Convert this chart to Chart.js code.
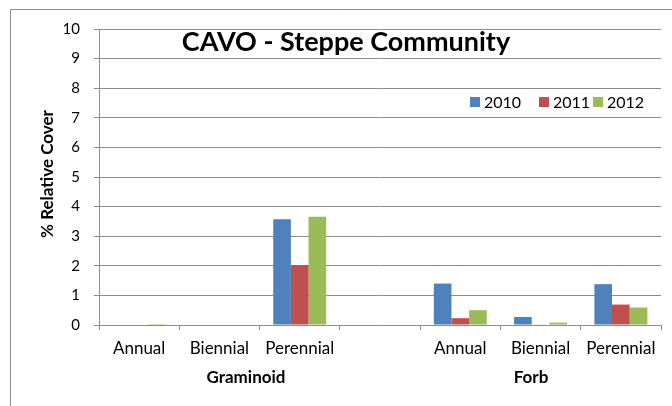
<!DOCTYPE html>
<html lang="en">
<head>
    <meta charset="UTF-8">
    <title>CAVO - Steppe Community</title>
    <script src="https://cdn.jsdelivr.net/npm/chart.js"></script>
    <style>
        body { margin: 0; background: #fff; }
    </style>
</head>
<body>
    <canvas id="coverChart" width="672" height="406"></canvas>

    <script>
        // categories: three life forms per group, with an empty spacer between groups
        const lifeForms = ['Annual', 'Biennial', 'Perennial', '', 'Annual', 'Biennial', 'Perennial'];
        const groupNames = ['Graminoid', 'Forb'];
        const years = ['2010', '2011', '2012'];

        // % relative cover per year
        const cover2010 = [0, 0, 3.57, null, 1.40, 0.27, 1.38];
        const cover2011 = [0, 0, 2.02, null, 0.23, 0.02, 0.69];
        const cover2012 = [0.03, 0, 3.66, null, 0.50, 0.08, 0.59];

        const yTicks = [0, 1, 2, 3, 4, 5, 6, 7, 8, 9, 10];
        const colors = ['#4F81BD', '#C0504D', '#9BBB59'];
        const font = 'Lato, "Open Sans", sans-serif';

        // frame, title, legend and group labels drawn straight on the canvas
        const decorations = {
            id: 'decorations',
            afterDraw(chart) {
                const ctx = chart.ctx;
                ctx.save();

                ctx.strokeStyle = '#8c8c8c';
                ctx.lineWidth = 1;
                ctx.beginPath();
                ctx.moveTo(10.5, 406);
                ctx.lineTo(10.5, 9.5);
                ctx.lineTo(672, 9.5);
                ctx.stroke();

                ctx.fillStyle = '#000';
                ctx.textAlign = 'center';
                ctx.textBaseline = 'alphabetic';
                ctx.font = 'bold 27px ' + font;
                ctx.fillText('CAVO - Steppe Community', 346, 51);

                ctx.font = 'bold 17px ' + font;
                const groupX = [246, 531];
                groupNames.forEach((g, i) => ctx.fillText(g, groupX[i], 383));

                ctx.save();
                ctx.translate(53, 174);
                ctx.rotate(-Math.PI / 2);
                ctx.font = 'bold 17px ' + font;
                ctx.fillText('% Relative Cover', 0, 0);
                ctx.restore();

                // legend inside the plot, top right
                ctx.font = '16px ' + font;
                ctx.textAlign = 'left';
                ctx.textBaseline = 'middle';
                const legendX = [470, 539, 593];
                years.forEach((yr, i) => {
                    ctx.fillStyle = colors[i];
                    ctx.fillRect(legendX[i], 97, 10, 10);
                    ctx.fillStyle = '#000';
                    ctx.fillText(yr, legendX[i] + 14, 103);
                });
                ctx.restore();
            }
        };

        const ctx = document.getElementById('coverChart').getContext('2d');
        new Chart(ctx, {
            type: 'bar',
            data: {
                labels: lifeForms,
                datasets: years.map((yr, i) => ({
                    label: yr,
                    data: [cover2010, cover2011, cover2012][i],
                    backgroundColor: colors[i],
                    borderWidth: 0,
                    categoryPercentage: 0.66,
                    barPercentage: 1
                }))
            },
            options: {
                responsive: false,
                animation: false,
                devicePixelRatio: 1,
                layout: { padding: { top: 29, right: 11, left: 0, bottom: 0 } },
                plugins: {
                    legend: { display: false },
                    tooltip: { enabled: false }
                },
                scales: {
                    x: {
                        afterFit: s => { s.height = 81; },
                        grid: {
                            offset: true,
                            drawOnChartArea: false,
                            color: '#8c8c8c',
                            tickLength: 5,
                            tickColor: '#8c8c8c'
                        },
                        border: { color: '#8c8c8c', width: 1 },
                        ticks: {
                            color: '#000',
                            font: { family: font, size: 17 },
                            padding: 8,
                            maxRotation: 0,
                            autoSkip: false
                        }
                    },
                    y: {
                        min: 0,
                        max: 10,
                        afterFit: s => { s.width = 99; },
                        afterBuildTicks: s => { s.ticks = yTicks.map(v => ({ value: v })); },
                        grid: {
                            color: '#8c8c8c',
                            tickLength: 5,
                            tickColor: '#8c8c8c'
                        },
                        border: { color: '#8c8c8c', width: 1 },
                        ticks: {
                            color: '#000',
                            font: { family: font, size: 15 },
                            padding: 14
                        }
                    }
                }
            },
            plugins: [decorations]
        });
    </script>
</body>
</html>
